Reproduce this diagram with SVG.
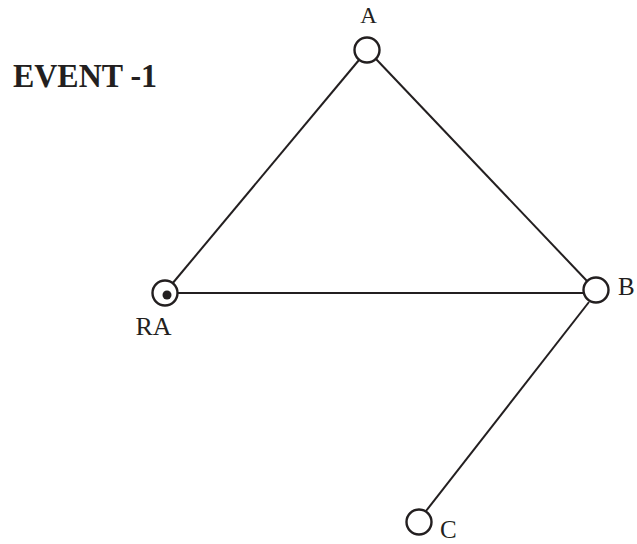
<svg xmlns="http://www.w3.org/2000/svg" width="637" height="544" viewBox="0 0 637 544">
<style>
.n{fill:#fff;stroke:#231f20;stroke-width:2.4}
.e{stroke:#231f20;stroke-width:2;fill:none}
.t{font-family:"Liberation Serif",serif;font-size:25px;fill:#231f20}
</style>
<rect width="637" height="544" fill="#fff"/>
<text x="13" y="87" textLength="144" lengthAdjust="spacingAndGlyphs" style="font-family:'Liberation Serif',serif;font-size:33px;font-weight:bold;fill:#231f20">EVENT -1</text>
<g id="edges">
<line class="e" x1="359" y1="60" x2="172" y2="284"/>
<line class="e" x1="376" y1="59" x2="587" y2="281"/>
<line class="e" x1="178" y1="293" x2="583" y2="293"/>
<line class="e" x1="589" y1="302" x2="426" y2="511"/>
</g>
<g id="A"><circle class="n" cx="367" cy="50" r="12.5"/><text class="t" x="368.5" y="23" text-anchor="middle" style="font-size:23px">A</text></g>
<g id="RA"><circle class="n" cx="165" cy="293" r="12.5"/><circle cx="167" cy="295" r="4.5" fill="#231f20"/><text class="t" x="153.5" y="335" text-anchor="middle" style="font-size:26px">RA</text></g>
<g id="B"><circle class="n" cx="596" cy="290" r="12.5"/><text class="t" x="618" y="295">B</text></g>
<g id="C"><circle class="n" cx="419" cy="522" r="12.5"/><text class="t" x="440" y="538">C</text></g>
</svg>
